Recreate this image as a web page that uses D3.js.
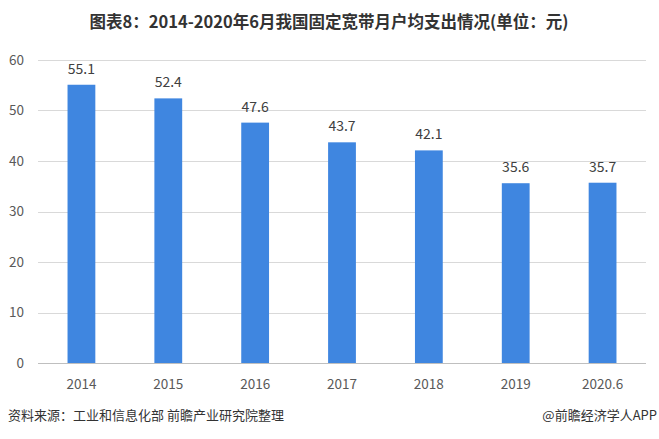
<!DOCTYPE html>
<html><head><meta charset="utf-8">
<script src="https://cdn.jsdelivr.net/npm/d3@7"></script>
<style>body{margin:0;background:#fff;}svg{display:block;}</style>
</head><body>
<script>
const categories = ["2014","2015","2016","2017","2018","2019","2020.6"];
const values = [55.1,52.4,47.6,43.7,42.1,35.6,35.7];
const yTicks = [0,10,20,30,40,50,60];
const title = "图表8：2014-2020年6月我国固定宽带月户均支出情况(单位：元)";
const source = "资料来源：工业和信息化部 前瞻产业研究院整理";
const credit = "@前瞻经济学人APP";

(function(){
const W = 659, H = 439;
const svg = d3.select("body").append("svg").attr("width", W).attr("height", H);
const pL = 38, pR = 646, pT = 60, pB = 363;
const font = "'Noto Sans CJK SC', 'Noto Sans', sans-serif";

const x = d3.scaleBand().domain(categories).range([pL, pR]).paddingInner(0.68).paddingOuter(0.34);
const y = d3.scaleLinear().domain([0, 60]).range([pB, pT]);

svg.append("text").attr("x", 329).attr("y", 28).attr("text-anchor", "middle")
  .attr("font-family", font).attr("font-weight", "bold").attr("font-size", 16.5).attr("fill", "#333").text(title);

svg.append("g").selectAll("line").data(yTicks).join("line")
  .attr("x1", pL).attr("x2", pR).attr("y1", d => Math.round(y(d)) + 0.5).attr("y2", d => Math.round(y(d)) + 0.5)
  .attr("stroke", d => d === 0 ? "#bfbfbf" : "#d9d9d9").attr("stroke-width", 1);

const yAxis = d3.axisLeft(y).tickValues(yTicks).tickSize(0).tickPadding(0);
const gy = svg.append("g").attr("transform", `translate(${pL - 14},0)`).call(yAxis);
gy.select(".domain").remove();
gy.selectAll("text").attr("font-family", font).attr("font-size", 13.5).attr("fill", "#595959").attr("text-anchor", "end");

svg.append("g").selectAll("rect").data(values).join("rect")
  .attr("x", (d, i) => x(categories[i])).attr("width", x.bandwidth())
  .attr("y", d => y(d)).attr("height", d => y(0) - y(d)).attr("fill", "#3F86E0");

svg.append("g").selectAll("text").data(values).join("text")
  .attr("x", (d, i) => x(categories[i]) + x.bandwidth()/2).attr("y", d => y(d) - 11)
  .attr("text-anchor", "middle").attr("font-family", font).attr("font-size", 14).attr("fill", "#404040")
  .text(d => d.toFixed(1));

const xAxis = d3.axisBottom(x).tickSize(0).tickPadding(0);
const gx = svg.append("g").attr("transform", `translate(0,${pB + 26})`).call(xAxis);
gx.select(".domain").remove();
gx.selectAll("text").attr("font-family", font).attr("font-size", 13.5).attr("fill", "#595959").attr("dy", "0");

svg.append("text").attr("x", 8).attr("y", 420).attr("font-family", font).attr("font-size", 13).attr("fill", "#333").text(source);
svg.append("text").attr("x", 657).attr("y", 420).attr("text-anchor", "end").attr("font-family", font).attr("font-size", 13).attr("fill", "#333").text(credit);
})();
</script>
</body></html>
